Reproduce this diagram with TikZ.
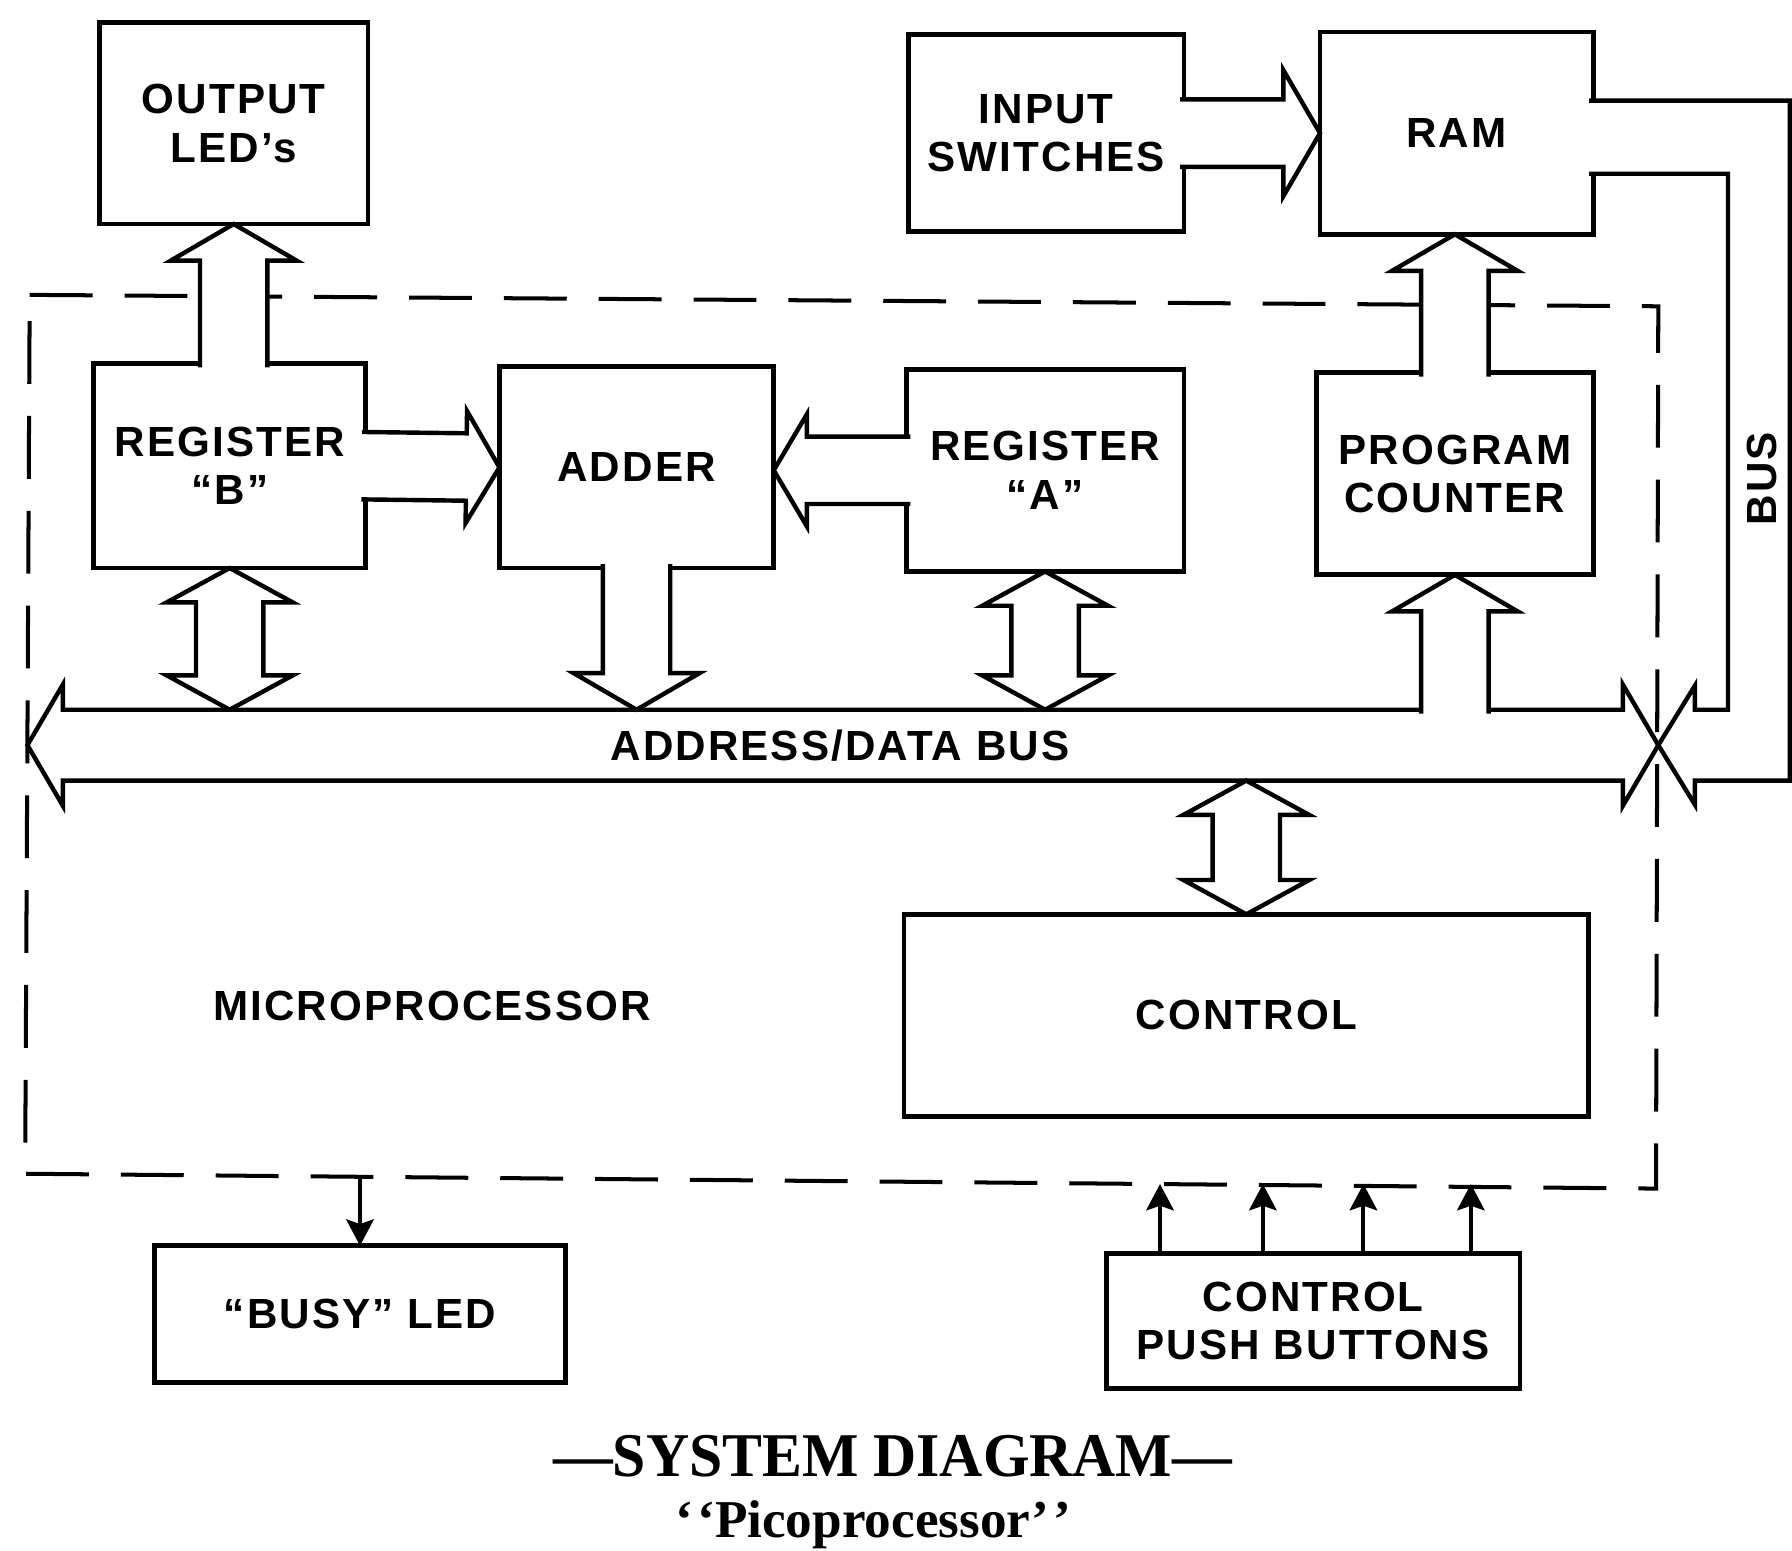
\documentclass[tikz,border=0pt]{standalone}
\usepackage{fontspec}
\usetikzlibrary{calc,arrows.meta}
\newfontfamily\blockfont[LetterSpace=5]{Liberation Sans}
\newfontfamily\titlefont{Liberation Serif}
\newcommand{\blocktext}{\blockfont\bfseries\fontsize{21}{24}\selectfont}

% fat arrow sizes: half shaft, half head, head length
\newcommand{\shaftw}{0.59cm}
\newcommand{\headw}{1.1cm}
\newcommand{\headl}{0.66cm}

% open at #1 (merges into the box), point at #2
\newcommand{\fatarrow}[2]{%
  \coordinate (ft) at (#2);
  \coordinate (fb) at ($(#1)!-0.07cm!(ft)$);
  \coordinate (fh) at ($(ft)!\headl!(fb)$);
  \filldraw[fat] ($(fb)!\shaftw!90:(ft)$) -- ($(fh)!\shaftw!90:(ft)$)
    -- ($(fh)!\headw!90:(ft)$) -- (ft) -- ($(fh)!\headw!-90:(ft)$)
    -- ($(fh)!\shaftw!-90:(ft)$) -- ($(fb)!\shaftw!-90:(ft)$);
}
% heads at both ends
\newcommand{\fatboth}[2]{%
  \coordinate (fa) at (#1);
  \coordinate (ft) at (#2);
  \coordinate (fha) at ($(fa)!\headl!(ft)$);
  \coordinate (fht) at ($(ft)!\headl!(fa)$);
  \filldraw[fat] (fa) -- ($(fha)!\headw!-90:(fa)$) -- ($(fha)!\shaftw!-90:(fa)$)
    -- ($(fht)!\shaftw!90:(ft)$) -- ($(fht)!\headw!90:(ft)$) -- (ft)
    -- ($(fht)!\headw!-90:(ft)$) -- ($(fht)!\shaftw!-90:(ft)$)
    -- ($(fha)!\shaftw!90:(fa)$) -- ($(fha)!\headw!90:(fa)$) -- cycle;
}

\begin{document}
\begin{tikzpicture}[x=0.02cm, y=-0.02cm,
  box/.style={draw, line width=2.4pt, fill=white, outer sep=0pt, inner sep=0pt,
    align=center, font=\blocktext},
  wh/.style 2 args={minimum width=#1*0.02cm, minimum height=#2*0.02cm},
  fat/.style={line width=2.2pt, fill=white, line join=miter},
  mpu/.style={line width=2pt, dash pattern=on 1.1cm off 0.56cm},
  thin arrow/.style={line width=2pt, -{Stealth[length=4.6mm, width=4.8mm, inset=0.8mm]}},
  lbl/.style={font=\blocktext, inner sep=0pt}]
  \useasboundingbox (0,0) rectangle (1568,1357);

  % microprocessor outline
  \draw[mpu] (26,258) -- (1451,268) -- (1449,1040) -- (22,1027) -- cycle;

  % blocks
  \node[box, wh={235}{176}] (outled) at (204.5,108) {OUTPUT\\LED’s};
  \node[box, wh={241}{172}] (inswitch) at (915.5,116.5) {INPUT\\SWITCHES};
  \node[box, wh={239}{177}] (ram) at (1274.5,116.5) {RAM};
  \node[box, wh={238}{179}] (regB) at (201,407.5) {REGISTER\\“B”};
  \node[box, wh={240}{176}] (adder) at (557,409) {ADDER};
  \node[box, wh={243}{177}] (regA) at (914.5,411.5) {REGISTER\\“A”};
  \node[box, wh={242}{177}] (pc) at (1273,414.5) {PROGRAM\\COUNTER};
  \node[box, wh={599}{177}] (control) at (1090.5,888.5) {CONTROL};
  \node[box, wh={360}{120}] (busy) at (315,1150) {“BUSY” LED};
  \node[box, wh={362}{118}] (buttons) at (1149,1156) {CONTROL\\PUSH BUTTONS};

  % address/data bus
  \coordinate (busL) at (24,652);
  \coordinate (busR) at (1451,652);
  \coordinate (bustop) at (0,621);
  \coordinate (busbot) at (0,683);
  \renewcommand{\shaftw}{0.62cm}
  \renewcommand{\headw}{1.06cm}
  \renewcommand{\headl}{0.62cm}
  \fatboth{busL}{busR}

  % side bus from RAM
  \filldraw[fat] ($(ram.east)+(-3.5,-28.5)$) -- (1566,88) -- (1566,683)
    -- (1483,683) -- (1483,704) -- (busR) -- (1483,600) -- (1483,621)
    -- (1512,621) -- (1512,152) -- ($(ram.east)+(-3.5,35.5)$);

  % sideways arrows into the adder
  \renewcommand{\shaftw}{0.59cm}
  \renewcommand{\headw}{0.98cm}
  \renewcommand{\headl}{0.58cm}
  \fatarrow{regB.east}{adder.west}
  \fatarrow{regA.west}{adder.east |- regA.west}

  % up and down arrows
  \renewcommand{\headw}{1.1cm}
  \renewcommand{\headl}{0.64cm}
  \fatarrow{inswitch.east}{ram.west}
  \fatarrow{regB.north -| outled.south}{outled.south}
  \fatarrow{adder.south}{adder.south |- bustop}
  \fatarrow{pc.north}{pc.north |- ram.south}
  \fatarrow{pc.south |- bustop}{pc.south}
  \renewcommand{\headl}{0.6cm}
  \fatboth{regB.south}{regB.south |- bustop}
  \fatboth{regA.south}{regA.south |- bustop}
  \fatboth{control.north |- busbot}{control.north}

  % thin arrows
  \coordinate (busyout) at (315,1030);
  \draw[thin arrow] (busyout) -- (busy.north);
  \foreach \dx in {47,137,225,319}
    \draw[thin arrow] ($(buttons.north west)+(\dx,0)$) -- ++(0,-61);

  % labels
  \node[lbl] (buslabel) at (735,652) {ADDRESS/DATA BUS};
  \node[lbl, rotate=90] (sidebus) at (1542,419) {BUS};
  \node[lbl] (mpulabel) at (378,880) {MICROPROCESSOR};

  % caption
  \node[anchor=base, inner sep=0pt, font=\titlefont\bfseries\fontsize{31}{31}\selectfont]
    (title) at (781,1292) {\scalebox{0.96}[1]{—SYSTEM DIAGRAM—}};
  \node[anchor=base, inner sep=0pt, font=\titlefont\bfseries\fontsize{26.5}{26.5}\selectfont]
    (subtitle) at (764,1345) {‘\kern0.08em‘Picoprocessor’\kern0.08em’};
\end{tikzpicture}
\end{document}
